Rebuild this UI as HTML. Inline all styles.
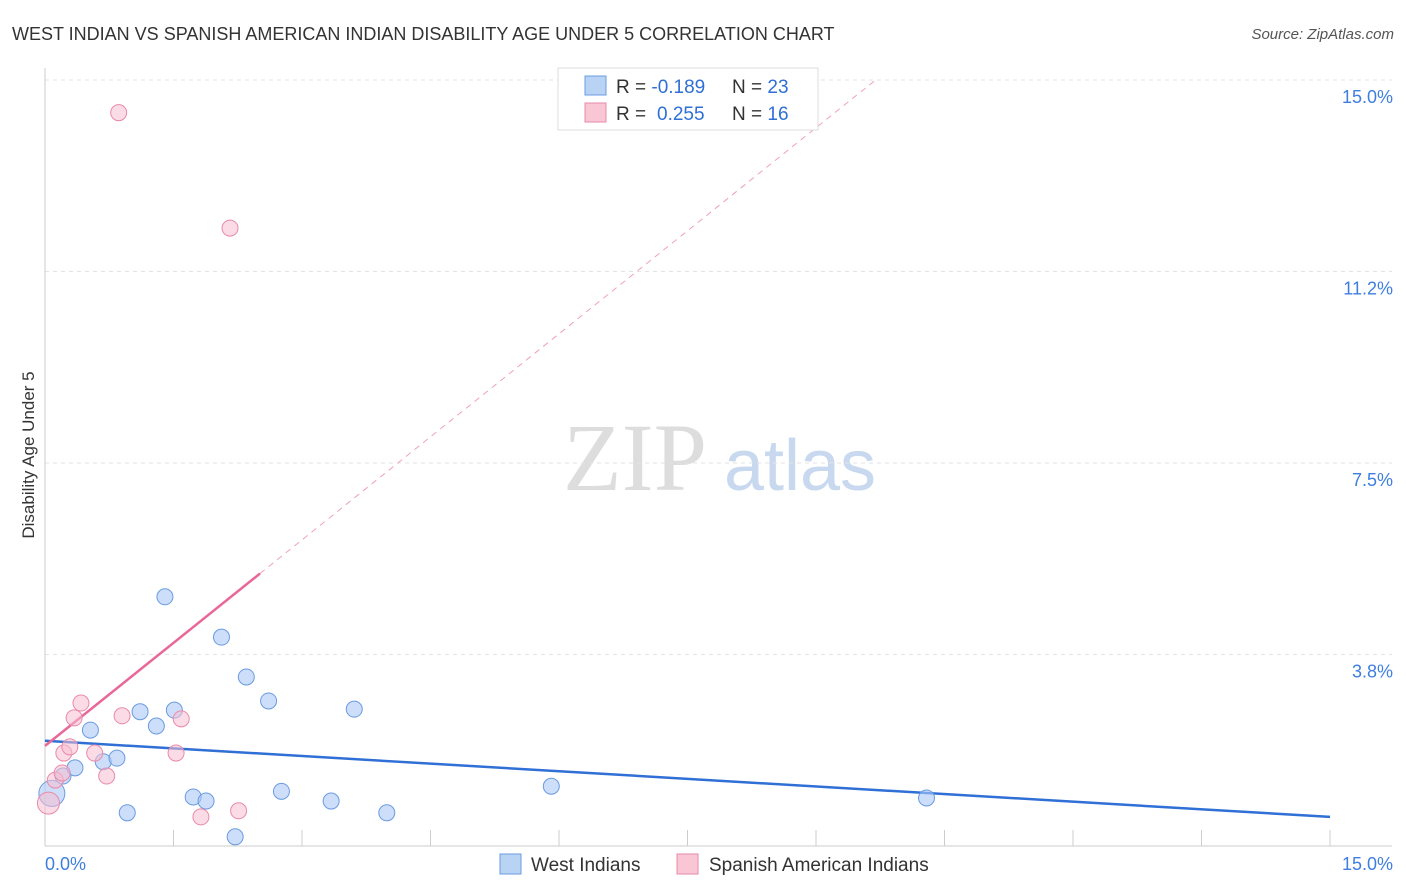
<!DOCTYPE html>
<html><head><meta charset="utf-8"><style>
body{margin:0;background:#fff;font-family:"Liberation Sans",sans-serif;}
svg{display:block}
</style></head><body>
<svg id="chart" width="1406" height="892">
<text x="12" y="40" font-size="18" fill="#333">WEST INDIAN VS SPANISH AMERICAN INDIAN DISABILITY AGE UNDER 5 CORRELATION CHART</text>
<text x="1394" y="39" font-size="15" fill="#555" text-anchor="end" font-style="italic">Source: ZipAtlas.com</text>
<text x="34" y="455" font-size="17" fill="#333" text-anchor="middle" transform="rotate(-90 34 455)">Disability Age Under 5</text>
<g><text x="635" y="490" font-size="96" fill="#ddd" font-family="Liberation Serif" text-anchor="middle">ZIP</text><text x="800" y="490" font-size="72" fill="#c8d8ef" text-anchor="middle">atlas</text></g>
<g id="grid"></g><g id="axes"></g><g id="trends"></g><g id="points"></g>
<g>
<rect x="558" y="68" width="260" height="62" fill="#fff" stroke="#ddd"/>
<rect x="585" y="76" width="21" height="19" fill="#b9d3f5" stroke="#6a9be0"/>
<rect x="585" y="103" width="21" height="19" fill="#f8c6d5" stroke="#e98aa8"/>
<text x="616" y="93" font-size="19" fill="#333">R = <tspan fill="#2f6fd6">-0.189</tspan><tspan x="732">N = </tspan><tspan fill="#2f6fd6">23</tspan></text>
<text x="616" y="120" font-size="19" fill="#333">R = <tspan fill="#2f6fd6" x="657">0.255</tspan><tspan x="732">N = </tspan><tspan fill="#2f6fd6">16</tspan></text>
</g>
<g>
<rect x="500" y="854" width="21" height="20" fill="#b9d3f5" stroke="#6a9be0"/>
<text x="531" y="871" font-size="19" fill="#333">West Indians</text>
<rect x="677" y="854" width="21" height="20" fill="#f8c6d5" stroke="#e98aa8"/>
<text x="709" y="871" font-size="19" fill="#333">Spanish American Indians</text>
</g>
</svg>
<script>
const yTicks=[3.75,7.5,11.25,15];
const yTickLabels=["3.8%","7.5%","11.2%","15.0%"];
const xTickValues=[0,1.5,3,4.5,6,7.5,9,10.5,12,13.5,15];
const blueX=[0.08,0.21,0.35,0.53,0.68,0.84,0.96,1.11,1.30,1.40,1.51,1.73,1.88,2.06,2.22,2.35,2.61,2.76,3.34,3.61,3.99,5.91,10.29];
const blueY=[1.03,1.37,1.53,2.27,1.65,1.72,0.65,2.63,2.35,4.88,2.66,0.96,0.88,4.09,0.18,3.31,2.84,1.07,0.88,2.68,0.65,1.17,0.94];
const pinkX=[0.04,0.12,0.20,0.22,0.29,0.34,0.42,0.58,0.72,0.86,0.90,1.53,1.59,1.82,2.16,2.26];
const pinkY=[0.84,1.29,1.43,1.82,1.94,2.51,2.80,1.82,1.37,14.36,2.55,1.82,2.49,0.57,12.10,0.69];
const blueTrend=[2.06,0.57];
const pinkTrend=[1.96,1.345];
const pinkSolidEnd=2.51;
const X=v=>45+v/15*1285, Y=v=>846-v/15*766;
const NS="http://www.w3.org/2000/svg";
function mk(p,t,a){const e=document.createElementNS(NS,t);for(const k in a)e.setAttribute(k,a[k]);document.getElementById(p).appendChild(e);return e;}
yTicks.forEach((v,i)=>{
 const g=mk('grid','line',{x1:45,x2:1392,y1:Y(v),y2:Y(v),stroke:'#e3e3e3','stroke-dasharray':'4 4'});
 
 
 const t=mk('grid','text',{x:1393,y:Y(v)+23,'font-size':18,fill:'#3f7ee0','text-anchor':'end'});
 t.textContent=yTickLabels[i];
 
 
});
const ax=mk('axes','line',{x1:45,x2:45,y1:68,y2:846,stroke:'#ccc'});


const bx=mk('axes','line',{x1:45,x2:1392,y1:846,y2:846,stroke:'#ccc'});


xTickValues.slice(1).forEach(v=>{
 const l=mk('axes','line',{x1:X(v),x2:X(v),y1:830,y2:846,stroke:'#ccc'});
 
 
});
[[0,'0.0%',45,'start'],[15,'15.0%',1393,'end']].forEach(d=>{
 const t=mk('axes','text',{x:d[2],y:870,'font-size':18,fill:'#3f7ee0','text-anchor':d[3]});
 t.textContent=d[1];
 
 
});
const bl=mk('trends','line',{x1:X(0),y1:Y(blueTrend[0]),x2:X(15),y2:Y(blueTrend[0]+blueTrend[1]*0+(blueTrend[1]-blueTrend[0])),stroke:'#2f6fd6','stroke-width':2.5});


const xTop=(15-pinkTrend[0])/pinkTrend[1];
const pd=mk('trends','line',{x1:X(pinkSolidEnd),y1:Y(pinkTrend[0]+pinkTrend[1]*pinkSolidEnd),x2:X(xTop),y2:Y(15),stroke:'#f0a0b8','stroke-width':1,'stroke-dasharray':'6 5'});


const ps=mk('trends','line',{x1:X(0),y1:Y(pinkTrend[0]),x2:X(pinkSolidEnd),y2:Y(pinkTrend[0]+pinkTrend[1]*pinkSolidEnd),stroke:'#e8689a','stroke-width':2.5});


blueX.forEach((x,i)=>{
 const c=mk('points','circle',{cx:X(x),cy:Y(blueY[i]),r:i==0?13:8,fill:'rgba(170,200,245,0.6)',stroke:'#6a9be0','stroke-width':1});
 
 
});
pinkX.forEach((x,i)=>{
 const c=mk('points','circle',{cx:X(x),cy:Y(pinkY[i]),r:i==0?11:8,fill:'rgba(248,190,210,0.55)',stroke:'#e98aa8','stroke-width':1});
 
 
});
</script>
</body></html>
